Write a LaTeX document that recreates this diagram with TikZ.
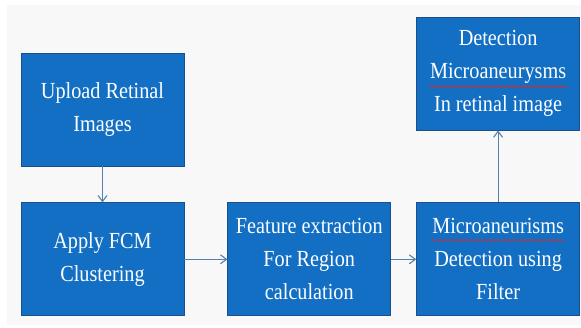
\documentclass[tikz,border=0pt]{standalone}
\usepackage{fontspec}
\setmainfont{Liberation Serif}[FakeStretch=0.88]
\usepackage{tikz}
\usetikzlibrary{arrows.meta,positioning,calc,decorations.pathmorphing}
\definecolor{boxblue}{RGB}{18,111,196}
\definecolor{boxedge}{RGB}{28,78,138}
\definecolor{flowline}{RGB}{84,128,172}
\definecolor{panelgray}{RGB}{248,248,248}
\definecolor{spellred}{RGB}{220,40,40}

\begin{document}
\begin{tikzpicture}[
  x=1pt,y=-1pt,
  font=\fontsize{23}{33}\selectfont,
  node distance=36pt and 43pt,
  stepbox/.style={draw=boxedge,line width=0.8pt,fill=boxblue,text=white,align=center,
    minimum width=163pt,minimum height=113pt,inner sep=2pt},
  arr/.style={-{Straight Barb[length=6pt,width=9pt]},line width=1.1pt,draw=flowline},
  spell/.style={draw=spellred,line width=0.6pt,decorate,
    decoration={snake,amplitude=1pt,segment length=4pt}}
]
  \fill[white] (0,0) rectangle (581,327);
  \fill[panelgray] (7,5) rectangle (581,325);
  \useasboundingbox (0,0) rectangle (581,327);

  \node[stepbox] (upload) at (102.5,109.5) {Upload Retinal\\Images};
  \node[stepbox,below=of upload] (fcm) {Apply FCM\\Clustering};
  \node[stepbox,right=of fcm] (feature) {Feature extraction\\For Region\\calculation};
  \node[stepbox,right=25pt of feature] (filter) {Microaneurisms\\Detection using\\Filter};
  \node[stepbox,above=72pt of filter] (detect) {Detection\\Microaneurysms\\In retinal image};

  \draw[arr] (upload)--(fcm);
  \draw[arr] (fcm)--(feature);
  \draw[arr] (feature)--(filter);
  \draw[arr] (filter)--(detect);

  % spell-check marks
  \draw[spell] ($(detect.center)+(-69,13)$)--++(138,0);
  \draw[spell] ($(filter.center)+(-67,-19)$)--++(134,0);
\end{tikzpicture}
\end{document}
